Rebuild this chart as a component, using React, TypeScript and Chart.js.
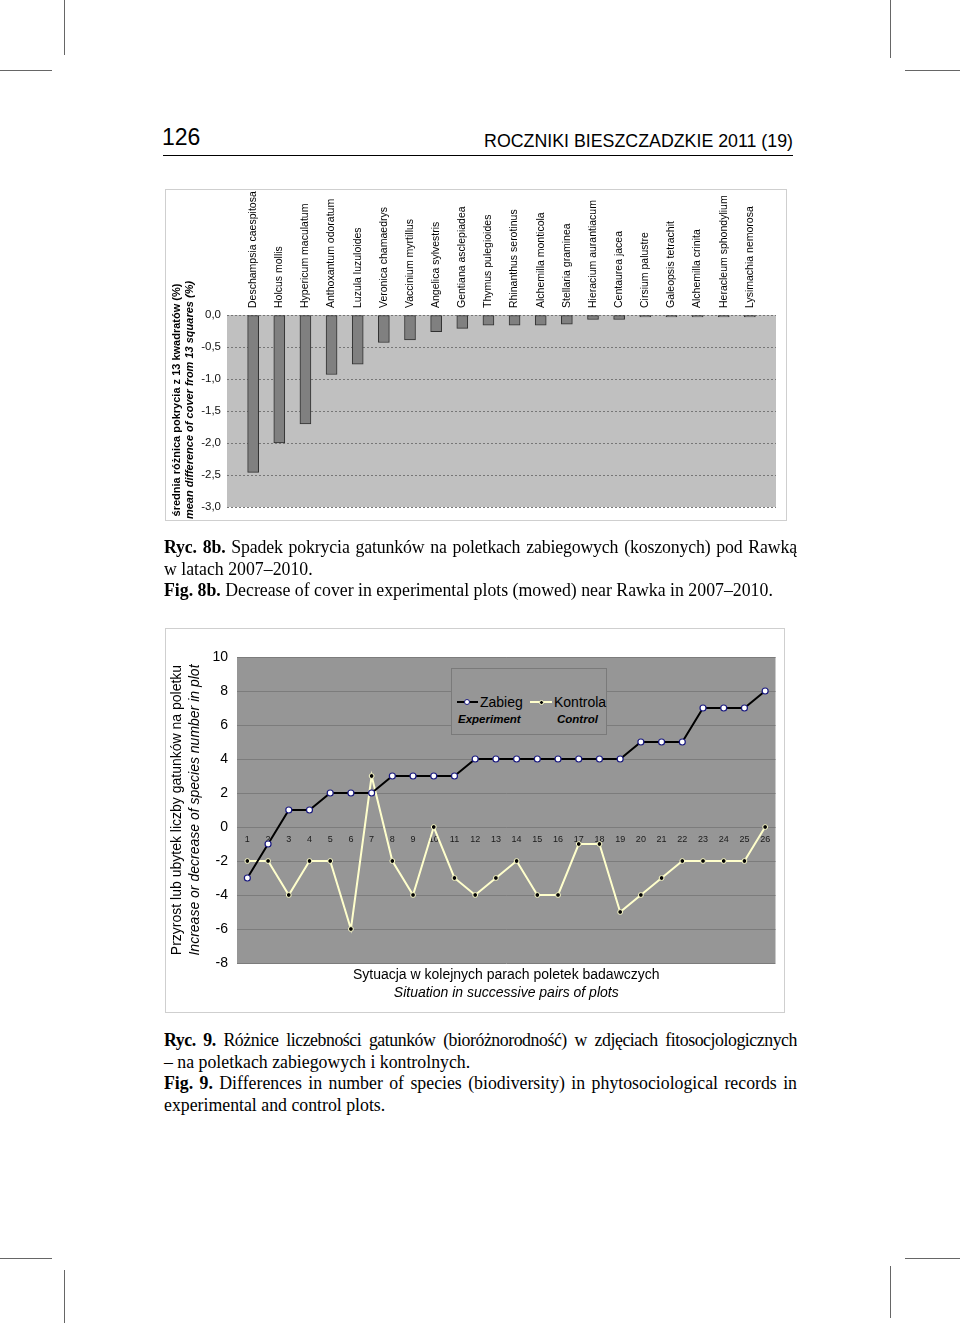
import React, { useEffect, useRef } from 'react';
import { Chart, registerables } from 'chart.js';

Chart.register(...registerables);

const SANS = '"Liberation Sans", Arial, Helvetica, sans-serif';
const SERIF = '"Liberation Serif", "Times New Roman", serif';

// ---------- Fig. 8b data ----------
const species = [
  'Deschampsia caespitosa',
  'Holcus mollis',
  'Hypericum maculatum',
  'Anthoxantum odoratum',
  'Luzula luzuloides',
  'Veronica chamaedrys',
  'Vaccinium myrtillus',
  'Angelica sylvestris',
  'Gentiana asclepiadea',
  'Thymus pulegioides',
  'Rhinanthus serotinus',
  'Alchemilla monticola',
  'Stellaria graminea',
  'Hieracium aurantiacum',
  'Centaurea jacea',
  'Cirsium palustre',
  'Galeopsis tetrachit',
  'Alchemilla crinita',
  'Heracleum sphondylium',
  'Lysimachia nemorosa',
];
const coverDiff = [
  -2.46, -2.0, -1.7, -0.93, -0.77, -0.43, -0.39, -0.26, -0.21, -0.16,
  -0.16, -0.16, -0.145, -0.07, -0.07, -0.03, -0.03, -0.02, -0.02, -0.02,
];
const coverTicks = [0, -0.5, -1, -1.5, -2, -2.5, -3];
const coverAxisTitles = [
  'średnia różnica pokrycia z 13 kwadratów (%)',
  'mean difference of cover from 13 squares (%)',
];

// ---------- Fig. 9 data ----------
const pairLabels = [
  '1', '2', '3', '4', '5', '6', '7', '8', '9', '10', '11', '12', '13',
  '14', '15', '16', '17', '18', '19', '20', '21', '22', '23', '24', '25', '26',
];
const zabieg = [-3, -1, 1, 1, 2, 2, 2, 3, 3, 3, 3, 4, 4, 4, 4, 4, 4, 4, 4, 5, 5, 5, 7, 7, 7, 8];
const kontrola = [-2, -2, -4, -2, -2, -6, 3, -2, -4, 0, -3, -4, -3, -2, -4, -4, -1, -1, -5, -4, -3, -2, -2, -2, -2, 0];
const seriesNames = ['Zabieg', 'Kontrola'];
const seriesNamesEn = ['Experiment', 'Control'];
const diffTicks = [10, 8, 6, 4, 2, 0, -2, -4, -6, -8];
const diffYTitles = [
  'Przyrost lub ubytek liczby gatunków na poletku',
  'Increase or decrease of species number in plot',
];
const diffXTitles = [
  'Sytuacja w kolejnych parach poletek badawczych',
  'Situation in successive pairs of plots',
];

const ZAB_LINE = '#000000';
const ZAB_POINT_BORDER = '#1a1a80';
const KON_LINE = '#ffffcc';

const plotBg = {
  id: 'plotBg',
  beforeDraw(chart: any, _args: any, opts: any) {
    const { ctx, chartArea: a } = chart;
    ctx.save();
    ctx.fillStyle = opts.color;
    ctx.fillRect(a.left, a.top, a.right - a.left, a.bottom - a.top);
    ctx.restore();
  },
};

function CoverChart() {
  const ref = useRef<HTMLCanvasElement>(null);
  useEffect(() => {
    const chart = new Chart(ref.current as HTMLCanvasElement, {
      type: 'bar',
      data: {
        datasets: [
          {
            data: coverDiff.map((v, i) => ({ x: i, y: v })),
            backgroundColor: '#808080',
            borderColor: '#303030',
            borderWidth: 1,
            borderSkipped: false,
            barThickness: 11,
            minBarLength: 2,
          },
        ],
      },
      options: {
        animation: false,
        responsive: false,
        maintainAspectRatio: false,
        layout: { padding: { top: 0, left: 0, right: 10, bottom: 13 } },
        plugins: {
          legend: { display: false },
          tooltip: { enabled: false },
          plotBg: { color: '#c0c0c0' },
        } as any,
        scales: {
          x: {
            type: 'linear',
            position: 'top',
            offset: false,
            min: -1,
            max: species.length,
            afterBuildTicks: (s: any) => {
              s.ticks = species.map((_, i) => ({ value: i }));
            },
            ticks: {
              autoSkip: false,
              minRotation: 90,
              maxRotation: 90,
              padding: 7,
              labelOffset: 12.6,
              color: '#000',
              font: { family: SANS, size: 10.5 },
              callback: (v: any) => species[Number(v)] ?? '',
            },
            grid: { display: false, drawTicks: false },
            border: { display: false },
            afterFit: (s: any) => {
              s.height = 125;
            },
          },
          y: {
            type: 'linear',
            min: -3,
            max: 0,
            afterBuildTicks: (s: any) => {
              s.ticks = coverTicks.map((value) => ({ value }));
            },
            ticks: {
              padding: 6,
              color: '#111',
              font: { family: SANS, size: 11.5 },
              callback: (v: any) => Number(v).toFixed(1).replace('.', ','),
            },
            grid: { color: '#767676', drawTicks: false, lineWidth: 1 },
            border: { display: false, dash: [2, 2] },
            afterFit: (s: any) => {
              s.width = 61;
            },
          },
        } as any,
      },
      plugins: [plotBg],
    } as any);
    return () => chart.destroy();
  }, []);
  return (
    <canvas
      ref={ref}
      width={620}
      height={330}
      style={{ position: 'absolute', left: 0, top: 0, width: 620, height: 330 }}
    />
  );
}

function DiffChart() {
  const ref = useRef<HTMLCanvasElement>(null);
  useEffect(() => {
    const chart = new Chart(ref.current as HTMLCanvasElement, {
      type: 'line',
      data: {
        labels: pairLabels,
        datasets: [
          {
            label: seriesNames[0],
            data: zabieg,
            borderColor: ZAB_LINE,
            borderWidth: 2,
            tension: 0,
            pointRadius: 3,
            pointBackgroundColor: '#ffffff',
            pointBorderColor: ZAB_POINT_BORDER,
            pointBorderWidth: 1.2,
          },
          {
            label: seriesNames[1],
            data: kontrola,
            borderColor: KON_LINE,
            borderWidth: 2,
            tension: 0,
            pointRadius: 2.4,
            pointBackgroundColor: '#000000',
            pointBorderColor: KON_LINE,
            pointBorderWidth: 1,
          },
        ],
      },
      options: {
        animation: false,
        responsive: false,
        maintainAspectRatio: false,
        layout: { padding: { top: 28, left: 0, right: 8.5, bottom: 0 } },
        plugins: {
          legend: { display: false },
          tooltip: { enabled: false },
          plotBg: { color: '#969696' },
        } as any,
        scales: {
          x: {
            type: 'category',
            position: { y: 0 },
            offset: true,
            grid: { display: false, drawTicks: false },
            border: { display: false },
            ticks: {
              autoSkip: false,
              maxRotation: 0,
              padding: 7,
              color: '#1a1a1a',
              font: { family: SANS, size: 9 },
            },
            afterFit: (s: any) => {
              s.height = 0;
            },
          },
          xt1: {
            type: 'category',
            position: 'bottom',
            offset: true,
            grid: { display: false, drawTicks: false },
            border: { display: false },
            ticks: { display: false },
            title: {
              display: true,
              text: diffXTitles[0],
              color: '#000',
              font: { family: SANS, size: 14 },
              padding: { top: 0, bottom: 0.6 },
            },
            afterFit: (s: any) => {
              s.height = 21;
            },
          },
          xt2: {
            type: 'category',
            position: 'bottom',
            weight: 1,
            offset: true,
            grid: { display: false, drawTicks: false },
            border: { display: false },
            ticks: { display: false },
            title: {
              display: true,
              text: diffXTitles[1],
              color: '#000',
              font: { family: SANS, size: 14, style: 'italic' },
              padding: { top: 0, bottom: 10.6 },
            },
            afterFit: (s: any) => {
              s.height = 28;
            },
          },
          y: {
            type: 'linear',
            min: -8,
            max: 10,
            afterBuildTicks: (s: any) => {
              s.ticks = diffTicks.map((value) => ({ value }));
            },
            ticks: {
              padding: 9,
              color: '#000',
              font: { family: SANS, size: 14 },
            },
            grid: { color: '#7c7c7c', drawTicks: false, lineWidth: 1 },
            border: { display: false },
            title: {
              display: true,
              text: diffYTitles[1],
              color: '#000',
              font: { family: SANS, size: 14, style: 'italic' },
              padding: { top: 0.6, bottom: 0 },
            },
            afterFit: (s: any) => {
              s.width = 51;
            },
          },
          yt: {
            type: 'linear',
            position: 'left',
            weight: 1,
            grid: { display: false, drawTicks: false },
            border: { display: false },
            ticks: { display: false },
            title: {
              display: true,
              text: diffYTitles[0],
              color: '#000',
              font: { family: SANS, size: 14 },
              padding: { top: 2.6, bottom: 0 },
            },
            afterFit: (s: any) => {
              s.width = 20;
            },
          },
        } as any,
      },
      plugins: [plotBg],
    } as any);
    return () => chart.destroy();
  }, []);
  return (
    <canvas
      ref={ref}
      width={618}
      height={383}
      style={{ position: 'absolute', left: 0, top: 0, width: 618, height: 383 }}
    />
  );
}

const abs = (left: number, top: number, extra: React.CSSProperties = {}): React.CSSProperties => ({
  position: 'absolute',
  left,
  top,
  ...extra,
});

function CropMarks() {
  const c = '#666';
  const v = (x: number, y1: number, y2: number) => (
    <div style={abs(x, y1, { width: 1, height: y2 - y1, background: c })} />
  );
  const h = (y: number, x1: number, x2: number) => (
    <div style={abs(x1, y, { width: x2 - x1, height: 1, background: c })} />
  );
  return (
    <>
      {v(64, 0, 55)}
      {v(890, 0, 58)}
      {h(70, 0, 52)}
      {h(70, 905, 960)}
      {h(1258, 0, 52)}
      {h(1258, 905, 960)}
      {v(64, 1270, 1323)}
      {v(890, 1266, 1318)}
    </>
  );
}

function RotText({ cx, cy, text, font }: { cx: number; cy: number; text: string; font: React.CSSProperties }) {
  const w = 320;
  const lh = 14;
  return (
    <div
      style={abs(cx - w / 2, cy - lh / 2, {
        width: w,
        height: lh,
        lineHeight: lh + 'px',
        textAlign: 'center',
        whiteSpace: 'nowrap',
        transform: 'rotate(-90deg)',
        transformOrigin: '50% 50%',
        fontFamily: SANS,
        color: '#000',
        ...font,
      })}
    >
      {text}
    </div>
  );
}

function Legend() {
  const txt = (left: number, cy: number, s: string, font: React.CSSProperties) => (
    <div style={abs(left, cy - 8, { height: 16, lineHeight: '16px', whiteSpace: 'nowrap', fontFamily: SANS, color: '#000', ...font })}>
      {s}
    </div>
  );
  return (
    <>
      <div
        style={abs(451, 668, {
          width: 156,
          height: 67,
          boxSizing: 'border-box',
          border: '1px solid #7a7a7a',
          background: '#969696',
        })}
      />
      <div style={abs(457, 701, { width: 21, height: 2, background: ZAB_LINE })} />
      <div
        style={abs(464, 699, {
          width: 6,
          height: 6,
          boxSizing: 'border-box',
          borderRadius: '50%',
          background: '#fff',
          border: '1.2px solid ' + ZAB_POINT_BORDER,
        })}
      />
      {txt(480, 702, seriesNames[0], { fontSize: 14 })}
      {txt(458, 719, seriesNamesEn[0], { fontSize: 11.5, fontWeight: 'bold', fontStyle: 'italic' })}
      <div style={abs(530, 701, { width: 22, height: 2, background: KON_LINE })} />
      <div
        style={abs(538.5, 699.5, {
          width: 5,
          height: 5,
          boxSizing: 'border-box',
          borderRadius: '50%',
          background: '#000',
          border: '1px solid ' + KON_LINE,
        })}
      />
      {txt(554, 702, seriesNames[1], { fontSize: 14 })}
      {txt(557, 719, seriesNamesEn[1], { fontSize: 11.5, fontWeight: 'bold', fontStyle: 'italic' })}
    </>
  );
}

const lineBase: React.CSSProperties = {
  fontFamily: SERIF,
  fontSize: 17.8,
  lineHeight: '21.5px',
  height: 21.5,
  color: '#000',
  whiteSpace: 'nowrap',
};
const fullLine = (ls: number): React.CSSProperties => ({
  ...lineBase,
  whiteSpace: 'normal',
  overflow: 'hidden',
  textAlign: 'justify',
  textAlignLast: 'justify',
  letterSpacing: ls + 'px',
});

export default function App() {
  return (
    <div style={{ position: 'absolute', left: 0, top: 0, width: 960, height: 1323, background: '#fff', overflow: 'hidden' }}>
      <CropMarks />
      <div style={abs(162, 126, { fontFamily: SANS, fontSize: 23, lineHeight: '23px', color: '#000' })}>126</div>
      <div
        style={abs(300, 132, {
          width: 493,
          textAlign: 'right',
          fontFamily: SANS,
          fontSize: 17.8,
          lineHeight: '18px',
          color: '#000',
          whiteSpace: 'nowrap',
        })}
      >
        ROCZNIKI BIESZCZADZKIE 2011 (19)
      </div>
      <div style={abs(163, 155, { width: 630, height: 1, background: '#000' })} />

      {/* Fig. 8b */}
      <div
        style={abs(165, 189, {
          width: 622,
          height: 332,
          boxSizing: 'border-box',
          border: '1px solid #cfcfcf',
        })}
      >
        <CoverChart />
      </div>
      <RotText cx={176} cy={400} text={coverAxisTitles[0]} font={{ fontSize: 11, fontWeight: 'bold' }} />
      <RotText
        cx={189}
        cy={400}
        text={coverAxisTitles[1]}
        font={{ fontSize: 11, fontWeight: 'bold', fontStyle: 'italic' }}
      />

      <div style={abs(164, 537, { width: 633 })}>
        <div style={fullLine(-0.15)}>
          <b>Ryc. 8b.</b> Spadek pokrycia gatunków na poletkach zabiegowych (koszonych) pod Rawką
        </div>
        <div style={lineBase}>w latach 2007–2010.</div>
        <div style={lineBase}>
          <b>Fig. 8b.</b> Decrease of cover in experimental plots (mowed) near Rawka in 2007–2010.
        </div>
      </div>

      {/* Fig. 9 */}
      <div
        style={abs(165, 628, {
          width: 620,
          height: 385,
          boxSizing: 'border-box',
          border: '1px solid #cfcfcf',
        })}
      >
        <DiffChart />
      </div>
      <Legend />

      <div style={abs(164, 1030, { width: 633 })}>
        <div style={fullLine(-0.45)}>
          <b>Ryc. 9.</b> Różnice liczebności gatunków (bioróżnorodność) w zdjęciach fitosocjologicznych
        </div>
        <div style={lineBase}>– na poletkach zabiegowych i kontrolnych.</div>
        <div style={fullLine(0)}>
          <b>Fig. 9.</b> Differences in number of species (biodiversity) in phytosociological records in
        </div>
        <div style={lineBase}>experimental and control plots.</div>
      </div>
    </div>
  );
}
